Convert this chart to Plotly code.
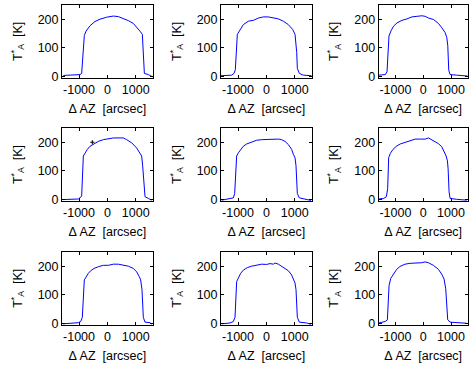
import plotly.graph_objects as go

# ---- data (Delta AZ [arcsec], T_A* [K]) ----
az_1 = [-1553, -965, -906, -812, -753, -612, -435, -259, -24, 212, 388, 565, 741, 918, 1059, 1153, 1235, 1306, 1447, 1600]
ta_1 = [3, 6, 10, 143, 158, 177, 192, 200, 207, 211, 209, 203, 195, 185, 170, 158, 147, 10, 6, -2]

az_2 = [-1600, -1224, -1141, -1094, -1024, -929, -812, -635, -459, -282, -106, 71, 247, 424, 600, 776, 929, 1012, 1071, 1094, 1165, 1306, 1600]
ta_2 = [2, 4, 10, 23, 147, 164, 181, 193, 196, 204, 208, 208, 204, 201, 193, 181, 164, 147, 84, 27, 10, 4, 2]

az_3 = [-1600, -1361, -1301, -1230, -1158, -1063, -943, -764, -585, -406, -227, -48, 72, 191, 370, 549, 669, 788, 848, 884, 919, 967, 1206, 1600]
ta_3 = [4, 6, 16, 141, 159, 176, 187, 196, 201, 208, 210, 212, 210, 204, 199, 185, 170, 153, 136, 107, 21, 6, 4, 1]

az_4 = [-1576, -1024, -965, -906, -847, -788, -706, -612, -494, -318, -142, 35, 211, 446, 564, 682, 858, 1034, 1152, 1211, 1246, 1293, 1329, 1446, 1564]
ta_4 = [0, 2, 6, 13, 152, 163, 175, 186, 194, 203, 209, 213, 215, 215, 215, 209, 198, 180, 163, 152, 118, 38, 10, 4, -2]

az_5 = [-1576, -1282, -1165, -1118, -1047, -988, -906, -812, -694, -518, -342, -165, 11, 129, 246, 423, 540, 658, 776, 893, 952, 1011, 1046, 1093, 1164, 1422, 1575]
ta_5 = [-2, 2, 6, 21, 152, 163, 175, 186, 194, 200, 207, 209, 210, 209, 211, 211, 209, 203, 192, 175, 158, 146, 118, 21, 6, 2, -3]

az_6 = [-1600, -1421, -1325, -1278, -1242, -1182, -1087, -967, -824, -645, -466, -287, -107, 72, 191, 310, 430, 549, 669, 752, 824, 872, 896, 931, 967, 1206, 1564]
ta_6 = [2, 4, 10, 38, 146, 161, 175, 186, 194, 200, 207, 211, 211, 211, 215, 209, 203, 195, 184, 169, 152, 135, 107, 27, 4, 1, -2]

az_7 = [-1576, -1024, -941, -883, -812, -753, -671, -589, -471, -318, -142, 35, 211, 387, 564, 740, 917, 1034, 1128, 1175, 1222, 1269, 1328, 1505, 1564]
ta_7 = [-2, 2, 6, 21, 152, 163, 175, 184, 192, 198, 203, 203, 207, 207, 203, 200, 192, 180, 163, 152, 118, 21, 4, 2, -3]

az_8 = [-1576, -1282, -1165, -1106, -1047, -988, -906, -812, -671, -518, -342, -165, 11, 129, 246, 305, 423, 540, 658, 776, 893, 952, 1011, 1046, 1093, 1164, 1422, 1575]
ta_8 = [-2, 1, 6, 21, 146, 158, 175, 186, 195, 200, 203, 207, 206, 209, 207, 211, 207, 200, 192, 184, 169, 152, 141, 118, 21, 4, 1, -4]

az_9 = [-1600, -1372, -1288, -1228, -1168, -1072, -953, -833, -653, -473, -233, -53, 67, 187, 366, 546, 666, 750, 810, 846, 882, 966, 1326, 1565]
ta_9 = [1, 6, 12, 132, 157, 172, 189, 199, 207, 210, 210, 212, 215, 212, 203, 189, 172, 155, 121, 75, 12, 4, 1, 0]

# single marked point in panel 4
mark_az = [-530]
mark_ta = [200]

x_ticks = [-1000, 0, 1000]
x_tick_labels = ["-1000", "0", "1000"]
y_ticks = [0, 100, 200]
y_tick_labels = ["0", "100", "200"]

panels = [(az_1, ta_1), (az_2, ta_2), (az_3, ta_3),
          (az_4, ta_4), (az_5, ta_5), (az_6, ta_6),
          (az_7, ta_7), (az_8, ta_8), (az_9, ta_9)]

W, H = 476, 374
col_px = [(62, 152.7), (221, 311.7), (378.7, 467.7)]
row_px = [(5, 79), (130, 204.3), (256, 330)]

FONT = dict(family="Liberation Sans, Arial, sans-serif", size=12.5, color="black")

fig = go.Figure()
layout = dict(width=W, height=H, margin=dict(l=0, r=0, t=0, b=0),
              paper_bgcolor="white", plot_bgcolor="white", showlegend=False,
              font=FONT)

for i, (xs, ys) in enumerate(panels):
    r, c = divmod(i, 3)
    n = "" if i == 0 else str(i + 1)
    xa, ya = "x" + n, "y" + n
    fig.add_trace(go.Scatter(x=xs, y=ys, mode="lines",
                             line=dict(color="#0000ff", width=1),
                             xaxis=xa, yaxis=ya, hoverinfo="skip"))
    if i == 3:
        fig.add_trace(go.Scatter(x=mark_az, y=mark_ta, mode="markers",
                                 marker=dict(color="black", size=3, symbol="cross-thin",
                                             line=dict(color="black", width=1)),
                                 xaxis=xa, yaxis=ya, hoverinfo="skip"))
    x0, x1 = col_px[c]
    t, b = row_px[r]
    common = dict(showline=True, linecolor="black", linewidth=1, mirror="ticks",
                  ticks="inside", ticklen=3, tickcolor="black", showgrid=False,
                  zeroline=False, tickfont=FONT)
    layout["xaxis" + n] = dict(domain=[x0 / W, x1 / W], anchor=ya, range=[-1600, 1600],
                               tickvals=x_ticks, ticktext=x_tick_labels,
                               title=dict(text="Δ AZ  [arcsec]", font=FONT, standoff=8),
                               **common)
    layout["yaxis" + n] = dict(domain=[1 - b / H, 1 - t / H], anchor=xa, range=[-5, 250],
                               tickvals=y_ticks, ticktext=y_tick_labels,
                               title=dict(text="T<sup>*</sup><sub>A</sub>  [K]", font=FONT, standoff=12),
                               **common)

fig.update_layout(**layout)
fig.write_html("out.html", config={"displayModeBar": False},
               post_script="document.body.style.margin='0';document.body.style.padding='0';")
